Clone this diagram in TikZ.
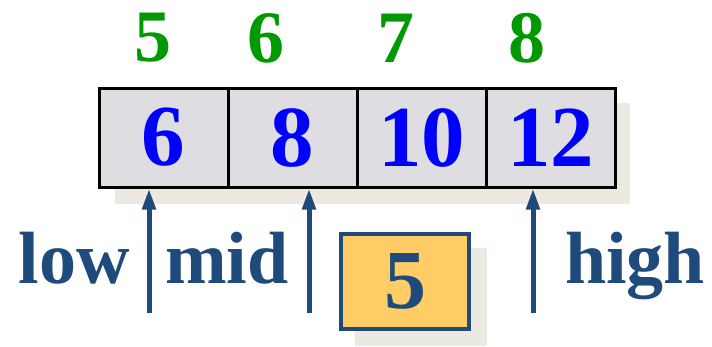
\documentclass[tikz,border=0pt]{standalone}
\usepackage{fontspec}
\setmainfont{Liberation Serif}
\usetikzlibrary{arrows.meta}
\definecolor{idxgreen}{HTML}{009900}
\definecolor{valblue}{HTML}{0000FF}
\definecolor{ptrblue}{HTML}{1F4A7C}
\definecolor{shadowbeige}{HTML}{ECEAE0}
\definecolor{marble}{HTML}{DEDEE2}
\definecolor{keyorange}{HTML}{FFCC66}
\tikzset{
  cellbox/.style={draw=black, line width=3pt, fill=marble, minimum width=129pt,
    minimum height=99pt, inner sep=0pt, text=valblue, font=\bfseries\fontsize{87}{87}\selectfont},
  idxlabel/.style={text=idxgreen, inner sep=0pt, font=\bfseries\fontsize{74}{74}\selectfont},
  ptrlabel/.style={text=ptrblue, inner sep=0pt, anchor=base, font=\bfseries\fontsize{74}{74}\selectfont},
  ptrarrow/.style={draw=ptrblue, line width=5pt, -{Triangle[width=13pt,length=21pt]}},
  keybox/.style={draw=ptrblue, line width=4pt, fill=keyorange, minimum width=128pt,
    minimum height=95pt, inner sep=0pt, text=ptrblue, font=\bfseries\fontsize{84}{84}\selectfont}
}
\begin{document}
\begin{tikzpicture}[x=1pt,y=-1pt]
\useasboundingbox (0,0) rectangle (712,346);
% shadows
\fill[shadowbeige] (115,103) rectangle (630,204);
\fill[shadowbeige] (355,248) rectangle (487,346);
% array cells
\foreach \v [count=\i] in {6,8,10,12}
  \node[cellbox] (c\i) at (99+129*\i-64.5,137.5) {\v};
% indices
\foreach \n/\x in {5/153,6/266,7/396,8/527}
  \node[idxlabel] (i\n) at (\x,38) {\n};
% pointers
\coordinate (lowtail) at (149,313);
\coordinate (midtail) at (309,313);
\coordinate (hightail) at (533,313);
\draw[ptrarrow] (lowtail) -- (lowtail |- c1.south);
\draw[ptrarrow] (midtail) -- (midtail |- c2.south);
\draw[ptrarrow] (hightail) -- (hightail |- c4.south);
\node[ptrlabel] (low) at (74,283) {low};
\node[ptrlabel] (mid) at (227,283) {mid};
\node[ptrlabel] (high) at (635,283) {high};
% key
\node[keybox] (key) at (405,281.5) {5};
\end{tikzpicture}
\end{document}
